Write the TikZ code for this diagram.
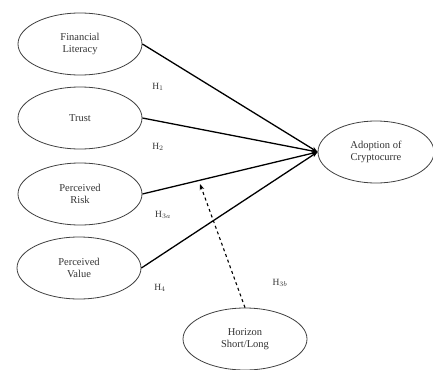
\documentclass[tikz,border=0pt]{standalone}
\usepackage{fontspec}
\setmainfont{Liberation Serif}
\usetikzlibrary{shapes.geometric,arrows.meta}
\begin{document}
\begin{tikzpicture}[x=1pt,y=-1pt,
  cons/.style={ellipse,draw=black!75,line width=0.8pt,minimum width=124pt,minimum height=62pt,inner sep=0pt,align=center,font=\fontsize{10.5}{12.5}\selectfont,text=black!80},
  path/.style={line width=1.3pt,-{Stealth[length=6pt,width=4.5pt]}},
  hyp/.style={font=\fontsize{9.5}{10}\selectfont,text=black!80}]
\useasboundingbox (0,0) rectangle (433,369);
\node[cons] (fl) at (80,44) {Financial\\Literacy};
\node[cons] (tr) at (80,118) {Trust};
\node[cons] (pr) at (80,194) {Perceived\\Risk};
\node[cons] (pv) at (79,268) {Perceived\\Value};
\node[cons,minimum width=116pt] (ad) at (376,152) {Adoption of\\Cryptocurre};
\node[cons] (hz) at (245,339) {Horizon\\Short/Long};
\coordinate (m) at (200,184);
\draw[path] (fl.east) -- (ad.west);
\draw[path] (tr.east) -- (ad.west);
\draw[path] (pr.east) -- (ad.west);
\draw[path] (pv.east) -- (ad.west);
\draw[line width=1.1pt,dashed,-{Stealth[length=6pt,width=4.5pt]}] (hz.north) -- (m);
\node[hyp] (h1) at (158,87) {H$_1$};
\node[hyp] (h2) at (158,147) {H$_2$};
\node[hyp] (h3a) at (163,215) {H$_{3a}$};
\node[hyp] (h4) at (160,288) {H$_4$};
\node[hyp] (h3b) at (280,283) {H$_{3b}$};
\end{tikzpicture}
\end{document}
